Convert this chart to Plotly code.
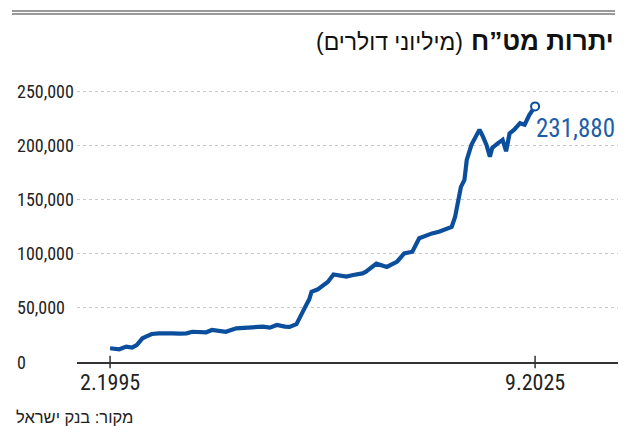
import plotly.graph_objects as go

# ---- data (millions USD) ----
dates = [
    "1995-02", "1995-10", "1996-04", "1996-09", "1997-01", "1997-03", "1997-06", "1997-09",
    "1998-02", "1998-08", "1999-03", "1999-08", "2000-02", "2000-08", "2001-01", "2001-07",
    "2002-01", "2002-06", "2002-10", "2003-06", "2004-03", "2004-10", "2005-05", "2006-02",
    "2006-08", "2007-02", "2007-09", "2008-01", "2008-07", "2008-10", "2009-01", "2009-04",
    "2009-06", "2009-08", "2010-01", "2010-05", "2010-10", "2011-03", "2011-08", "2012-02",
    "2012-08", "2013-04", "2013-07", "2014-01", "2014-04", "2015-01", "2015-10", "2016-04",
    "2016-11", "2017-05", "2017-11", "2018-04", "2018-10", "2019-04", "2019-09", "2019-12",
    "2020-02", "2020-05", "2020-08", "2020-10", "2021-02", "2021-06", "2021-09", "2021-12",
    "2022-03", "2022-06", "2022-08", "2023-01", "2023-05", "2023-08", "2023-11", "2024-03",
    "2024-08", "2024-12", "2025-04", "2025-09",
]
reserves = [
    12700, 11800, 14200, 13300, 15700, 18800, 21900, 23400,
    25900, 26500, 26000, 26500, 26300, 26500, 28000, 27300,
    27500, 29600, 29000, 28000, 31200, 31500, 32100, 32700,
    31800, 34300, 32700, 32500, 35000, 42000, 47000, 54000,
    58000, 65000, 67000, 70000, 74000, 81000, 80500, 79000,
    80500, 82000, 83600, 88000, 91000, 88000, 93000, 100500,
    102000, 114500, 117500, 119000, 120500, 122500, 125000, 134500,
    144000, 162000, 168500, 187000, 201000, 208500, 215000, 208500,
    201000, 190000, 198000, 202500, 205500, 195000, 211500, 215000,
    221000, 219500, 228500, 236500,
]
last_label = "231,880"

y_ticks = [0, 50000, 100000, 150000, 200000, 250000]
y_tick_text = ["0", "50,000", "100,000", "150,000", "200,000", "250,000"]
x_ticks = ["1995-02-01", "2025-09-01"]
x_tick_text = ["2.1995", "9.2025"]

title_bold = "יתרות מט”ח"
title_unit = "(מיליוני דולרים)"
source = "מקור: בנק ישראל"

LINE = "#0b4f9c"
LABEL = "#1d5ea8"
NUM_FONT = "Liberation Sans Narrow, Roboto Condensed, Roboto, sans-serif"
HEB_FONT = "Liberation Sans, DejaVu Sans, sans-serif"

# the page body adds an 8px margin; design in page coordinates, convert
OFF = 8
W, H = 627 - OFF, 439 - OFF
PL, PR, PT, PB = 77, 618, 81, 362          # plot area in page pixels
ML, MR, MT, MB = PL - OFF, W - (PR - OFF), PT - OFF, H - (PB - OFF)
PW = W - ML - MR
PH = H - MT - MB


def px(x):
    return (x - OFF - ML) / PW


def py(y):
    return 1 - (y - OFF - MT) / PH


fig = go.Figure()
fig.add_trace(go.Scatter(
    x=dates, y=reserves, mode="lines",
    line=dict(color=LINE, width=4.2, shape="linear"),
    hoverinfo="skip", showlegend=False,
))
fig.add_trace(go.Scatter(
    x=[dates[-1]], y=[reserves[-1]], mode="markers",
    marker=dict(size=8, color="white", line=dict(color=LINE, width=2)),
    hoverinfo="skip", showlegend=False,
))

fig.update_layout(
    width=W, height=H,
    margin=dict(l=ML, r=MR, t=MT, b=MB),
    paper_bgcolor="white", plot_bgcolor="white",
    xaxis=dict(
        type="date",
        range=["1992-09-15", "2031-08-20"],
        tickvals=x_ticks, ticktext=x_tick_text,
        showgrid=False, zeroline=False,
        showline=True, linecolor="#333333", linewidth=1.5,
        ticks="outside", ticklen=0,
        tickfont=dict(family=NUM_FONT, size=22, color="#222222"),
    ),
    yaxis=dict(
        range=[0, 260000],
        tickvals=y_ticks[1:], showticklabels=False,
        showgrid=True, gridcolor="#c8c8c8", griddash="dot", gridwidth=1,
        zeroline=False, showline=False,
    ),
)

# small vertical tick marks crossing the x axis
for tv in x_ticks:
    fig.add_shape(type="line", xref="x", yref="paper", x0=tv, x1=tv,
                  y0=-0.022, y1=0.022, line=dict(color="#333333", width=1.5))

# left-aligned y tick labels
for v, t in zip(y_ticks, y_tick_text):
    fig.add_annotation(xref="paper", yref="y", x=px(15), y=v,
                       text=t, showarrow=False, xanchor="left", yanchor="middle",
                       font=dict(family=NUM_FONT, size=18, color="#222222"))

# end-value label
fig.add_annotation(xref="x", yref="y", x=dates[-1], y=reserves[-1],
                   text=last_label, showarrow=False, xanchor="left", yanchor="middle",
                   xshift=-1, yshift=-22,
                   font=dict(family=NUM_FONT, size=25, color=LABEL))

# header rule (double grey line)
for yy in (11, 14):
    fig.add_shape(type="line", xref="paper", yref="paper",
                  x0=px(12), x1=px(615), y0=py(yy), y1=py(yy),
                  line=dict(color="#9a9a9a", width=2))

# title
fig.add_annotation(xref="paper", yref="paper", x=px(616), y=py(41),
                   text="<b>" + title_bold + "</b>", showarrow=False,
                   xanchor="right", yanchor="middle",
                   font=dict(family=HEB_FONT, size=26, color="#111111"))
fig.add_annotation(xref="paper", yref="paper", x=px(465), y=py(42),
                   text=title_unit, showarrow=False,
                   xanchor="right", yanchor="middle",
                   font=dict(family=HEB_FONT, size=23, color="#111111"))

# source
fig.add_annotation(xref="paper", yref="paper", x=px(14), y=py(417),
                   text=source, showarrow=False, xanchor="left", yanchor="middle",
                   font=dict(family=HEB_FONT, size=16.5, color="#222222"))

fig.write_html("out.html")
